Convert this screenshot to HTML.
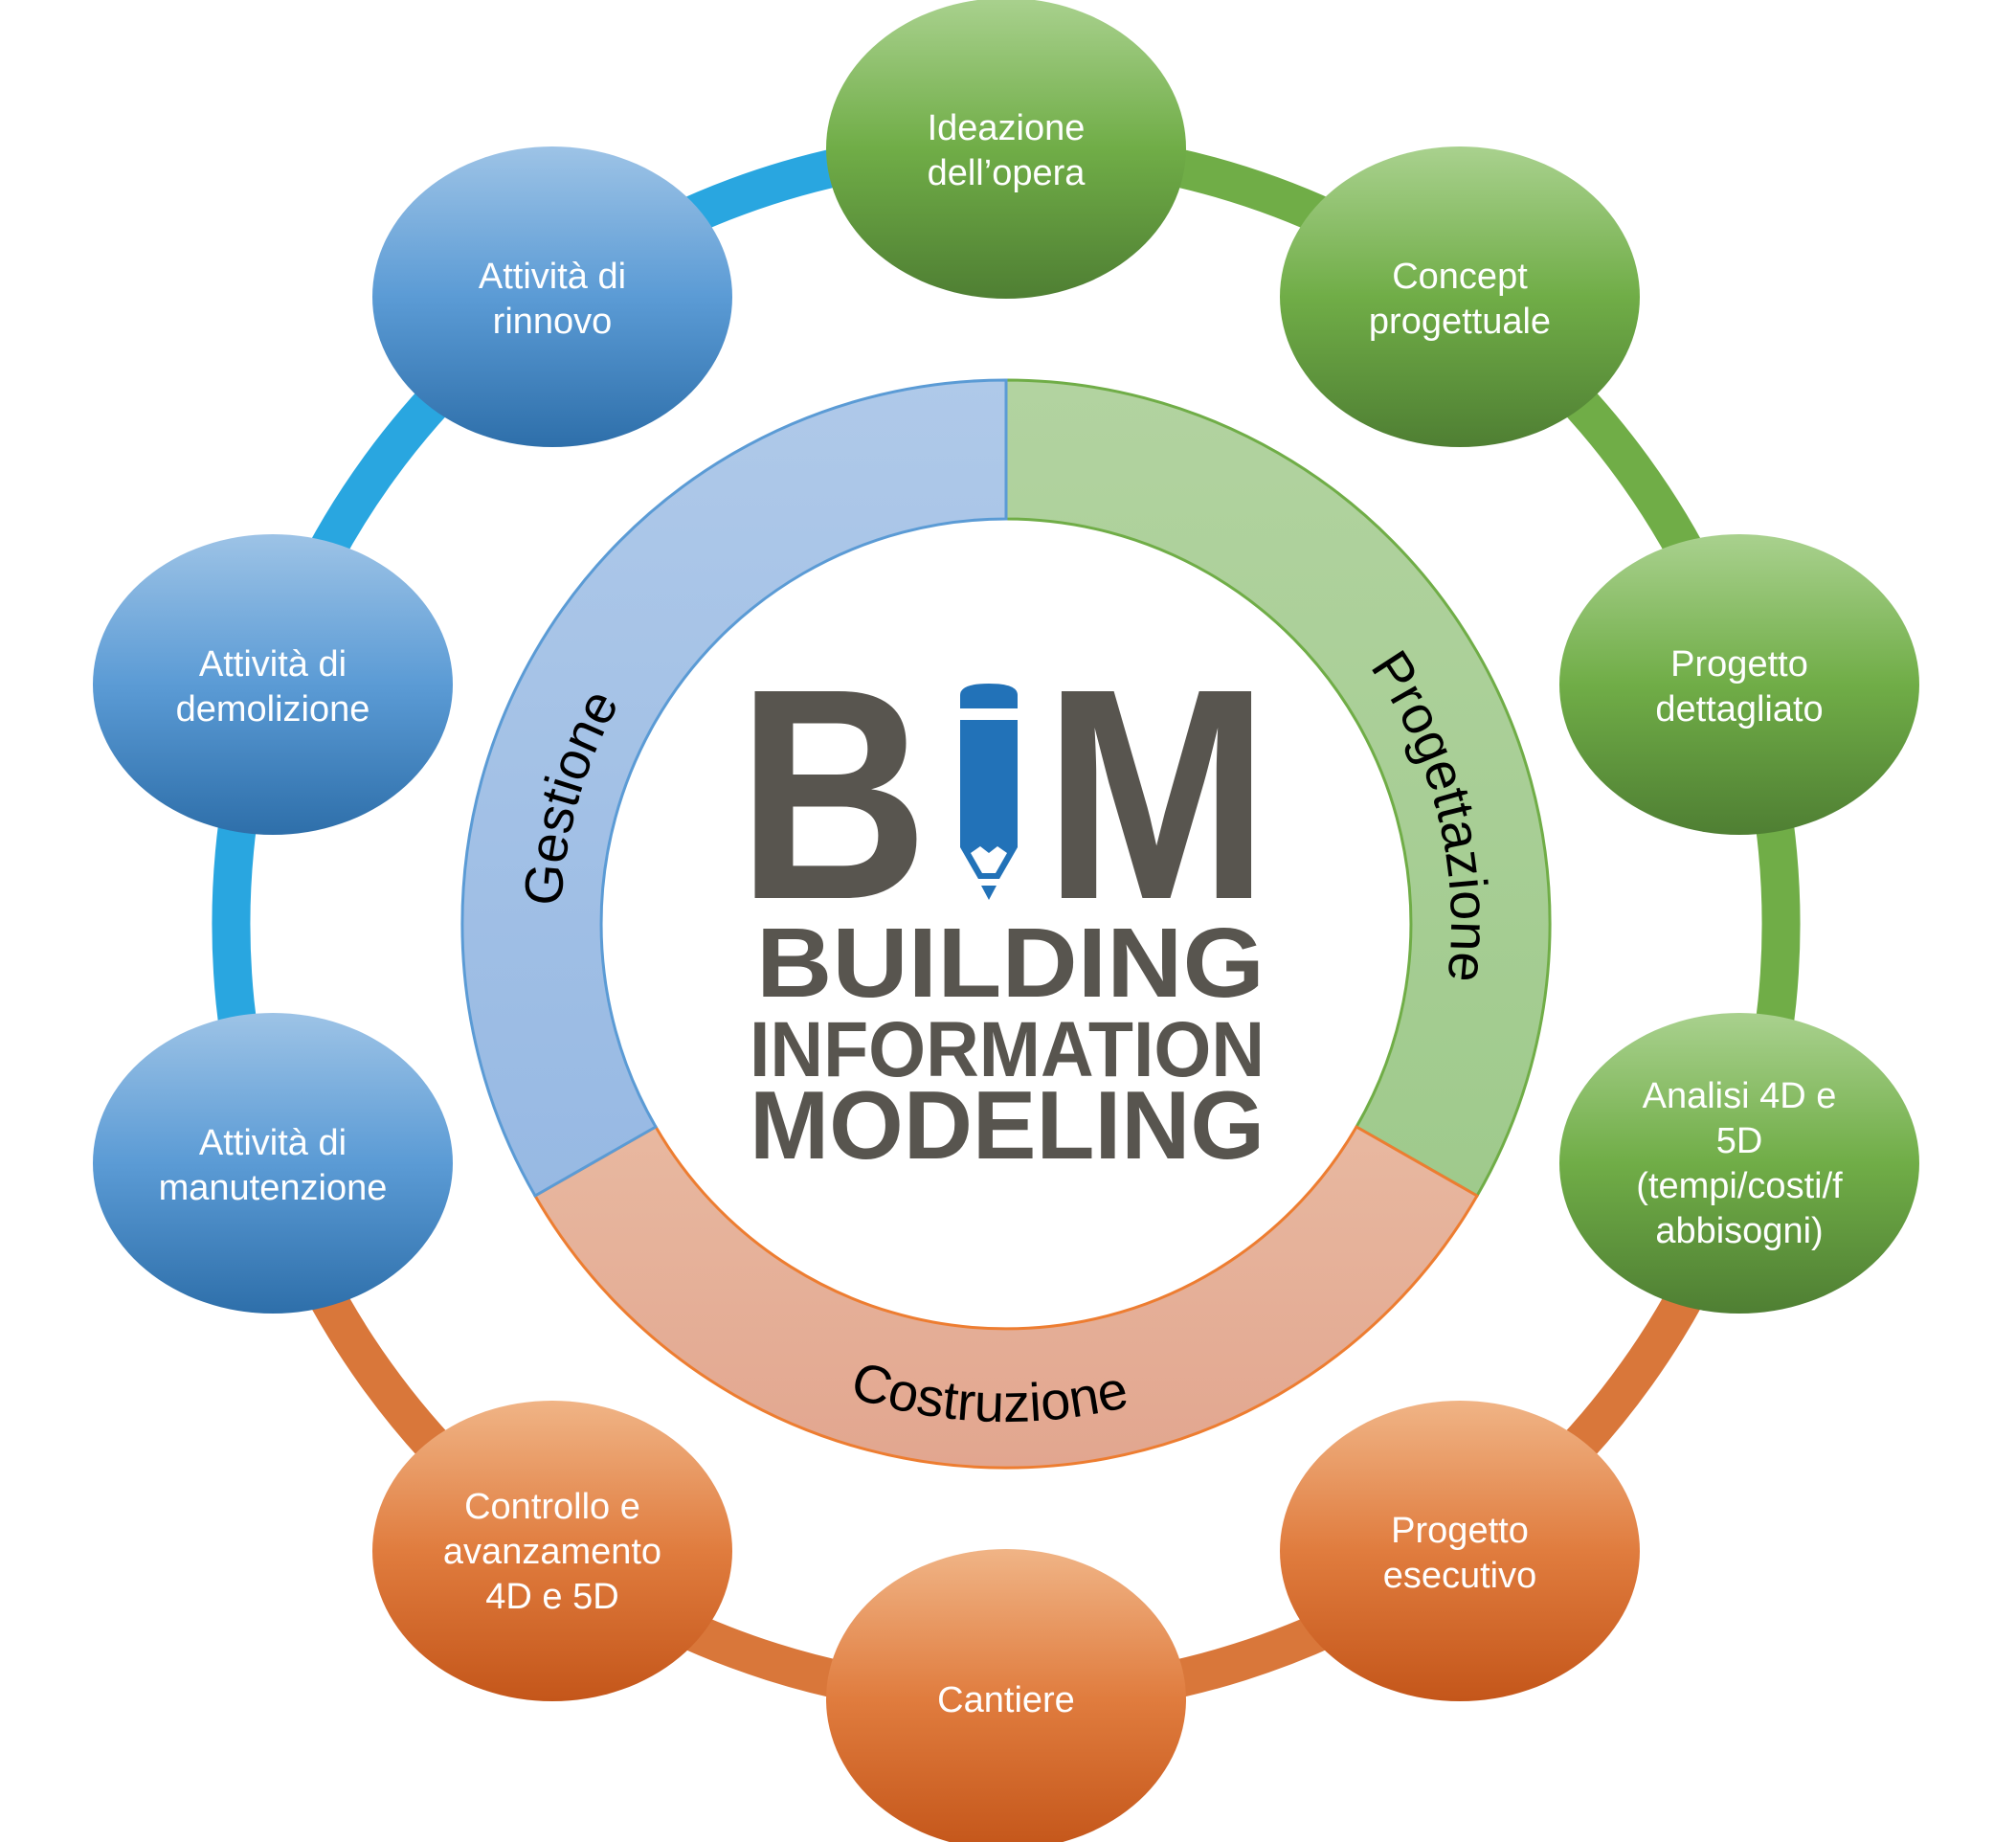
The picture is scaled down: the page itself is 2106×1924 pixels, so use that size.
<!DOCTYPE html>
<html><head><meta charset="utf-8"><style>html,body{margin:0;padding:0;background:#fff}svg{display:block}</style></head>
<body>
<svg width="2106" height="1924" viewBox="0 0 2106 1924" xmlns="http://www.w3.org/2000/svg">
<defs>
<linearGradient id="gb" x1="0" y1="0" x2="0" y2="1"><stop offset="0" stop-color="#9dc3e6"/><stop offset="0.5" stop-color="#5b9bd5"/><stop offset="1" stop-color="#2e6faa"/></linearGradient>
<linearGradient id="gg" x1="0" y1="0" x2="0" y2="1"><stop offset="0" stop-color="#a9d18e"/><stop offset="0.5" stop-color="#70ad47"/><stop offset="1" stop-color="#4f7f33"/></linearGradient>
<linearGradient id="go" x1="0" y1="0" x2="0" y2="1"><stop offset="0" stop-color="#f0b486"/><stop offset="0.5" stop-color="#e07c3e"/><stop offset="1" stop-color="#c4561a"/></linearGradient>
<linearGradient id="rb" x1="0" y1="0" x2="0" y2="1"><stop offset="0" stop-color="#afc9e9"/><stop offset="1" stop-color="#97b9e3"/></linearGradient>
<linearGradient id="rg" x1="0" y1="0" x2="0" y2="1"><stop offset="0" stop-color="#b2d3a0"/><stop offset="1" stop-color="#9fca8c"/></linearGradient>
<linearGradient id="ro" x1="0" y1="0" x2="0" y2="1"><stop offset="0" stop-color="#e8b8a0"/><stop offset="1" stop-color="#e2a68f"/></linearGradient>
<path id="pG" d="M 755.1 1321.2 A 465 465 0 0 1 989.3 504.5"/>
<path id="pP" d="M 1134.7 507.1 A 465 465 0 0 1 1340.3 1331.4"/>
<path id="pC" d="M 579 1176.5 A 520 520 0 0 0 1513.2 1209.1"/>
</defs>
<g transform="translate(-3,0)">
<g fill="none" stroke-width="40">
<path d="M 1054 155 A 810 810 0 0 1 1824 1215" stroke="#70ad47"/>
<path d="M 1824 1215 A 810 810 0 0 1 284 1215" stroke="#d9773a"/>
<path d="M 284 1215 A 810 810 0 0 1 1054 155" stroke="#29a6e0"/>
</g>
<path d="M 1054 397 A 568 568 0 0 1 1546 1249 L 1420 1177 A 423 423 0 0 0 1054 542 Z" fill="url(#rg)" stroke="#70ad47" stroke-width="3"/>
<path d="M 1546 1249 A 568 568 0 0 1 562 1249 L 688 1177 A 423 423 0 0 0 1420 1177 Z" fill="url(#ro)" stroke="#ed7d31" stroke-width="3"/>
<path d="M 562 1249 A 568 568 0 0 1 1054 397 L 1054 542 A 423 423 0 0 0 688 1177 Z" fill="url(#rb)" stroke="#5b9bd5" stroke-width="3"/>
<g font-family="'Liberation Sans',sans-serif" font-size="56" fill="#000">
<text><textPath href="#pG" startOffset="50%" text-anchor="middle">Gestione</textPath></text>
<text><textPath href="#pP" startOffset="50%" text-anchor="middle">Progettazione</textPath></text>
<text><textPath href="#pC" startOffset="50%" text-anchor="middle">Costruzione</textPath></text>
</g>
</g>
<g fill="#58554f" font-family="'Liberation Sans',sans-serif" font-weight="bold">
<text x="770" y="938" font-size="314" textLength="200" lengthAdjust="spacingAndGlyphs">B</text>
<text x="1090" y="938" font-size="314" textLength="236" lengthAdjust="spacingAndGlyphs">M</text>
<text x="790" y="1041" font-size="103" textLength="531" lengthAdjust="spacingAndGlyphs">BUILDING</text>
<text x="783" y="1124" font-size="82" textLength="538" lengthAdjust="spacingAndGlyphs">INFORMATION</text>
<text x="783" y="1210" font-size="101" textLength="538" lengthAdjust="spacingAndGlyphs">MODELING</text>
</g>
<g fill="#2272b8">
<path d="M 1003 740 L 1003 726 Q 1003 714 1033 714 Q 1063 714 1063 726 L 1063 740 Z"/>
<path d="M 1003 752 L 1063 752 L 1063 885 L 1044 918 L 1022 918 L 1003 885 Z"/>
<path d="M 1025 925 L 1041 925 L 1033 940 Z"/>
</g>
<path d="M 1014 891 L 1024 884 L 1033 891 L 1042 884 L 1052 891 L 1040 912 L 1026 912 Z" fill="#fff"/>
<g transform="translate(-3,0)" font-family="'Liberation Sans',sans-serif" font-size="38" fill="#fff" text-anchor="middle">
<ellipse cx="1054" cy="155" rx="188" ry="157" fill="url(#gg)"/>
<text x="1054" y="146">Ideazione</text><text x="1054" y="193">dell’opera</text>
<ellipse cx="1528" cy="310" rx="188" ry="157" fill="url(#gg)"/>
<text x="1528" y="301">Concept</text><text x="1528" y="348">progettuale</text>
<ellipse cx="1820" cy="715" rx="188" ry="157" fill="url(#gg)"/>
<text x="1820" y="706">Progetto</text><text x="1820" y="753">dettagliato</text>
<ellipse cx="1820" cy="1215" rx="188" ry="157" fill="url(#gg)"/>
<text x="1820" y="1157">Analisi 4D e</text><text x="1820" y="1204">5D</text><text x="1820" y="1251">(tempi/costi/f</text><text x="1820" y="1298">abbisogni)</text>
<ellipse cx="1528" cy="1620" rx="188" ry="157" fill="url(#go)"/>
<text x="1528" y="1611">Progetto</text><text x="1528" y="1658">esecutivo</text>
<ellipse cx="1054" cy="1775" rx="188" ry="157" fill="url(#go)"/>
<text x="1054" y="1788">Cantiere</text>
<ellipse cx="580" cy="1620" rx="188" ry="157" fill="url(#go)"/>
<text x="580" y="1586">Controllo e</text><text x="580" y="1633">avanzamento</text><text x="580" y="1680">4D e 5D</text>
<ellipse cx="288" cy="1215" rx="188" ry="157" fill="url(#gb)"/>
<text x="288" y="1206">Attività di</text><text x="288" y="1253">manutenzione</text>
<ellipse cx="288" cy="715" rx="188" ry="157" fill="url(#gb)"/>
<text x="288" y="706">Attività di</text><text x="288" y="753">demolizione</text>
<ellipse cx="580" cy="310" rx="188" ry="157" fill="url(#gb)"/>
<text x="580" y="301">Attività di</text><text x="580" y="348">rinnovo</text>
</g>
</svg>
</body></html>
